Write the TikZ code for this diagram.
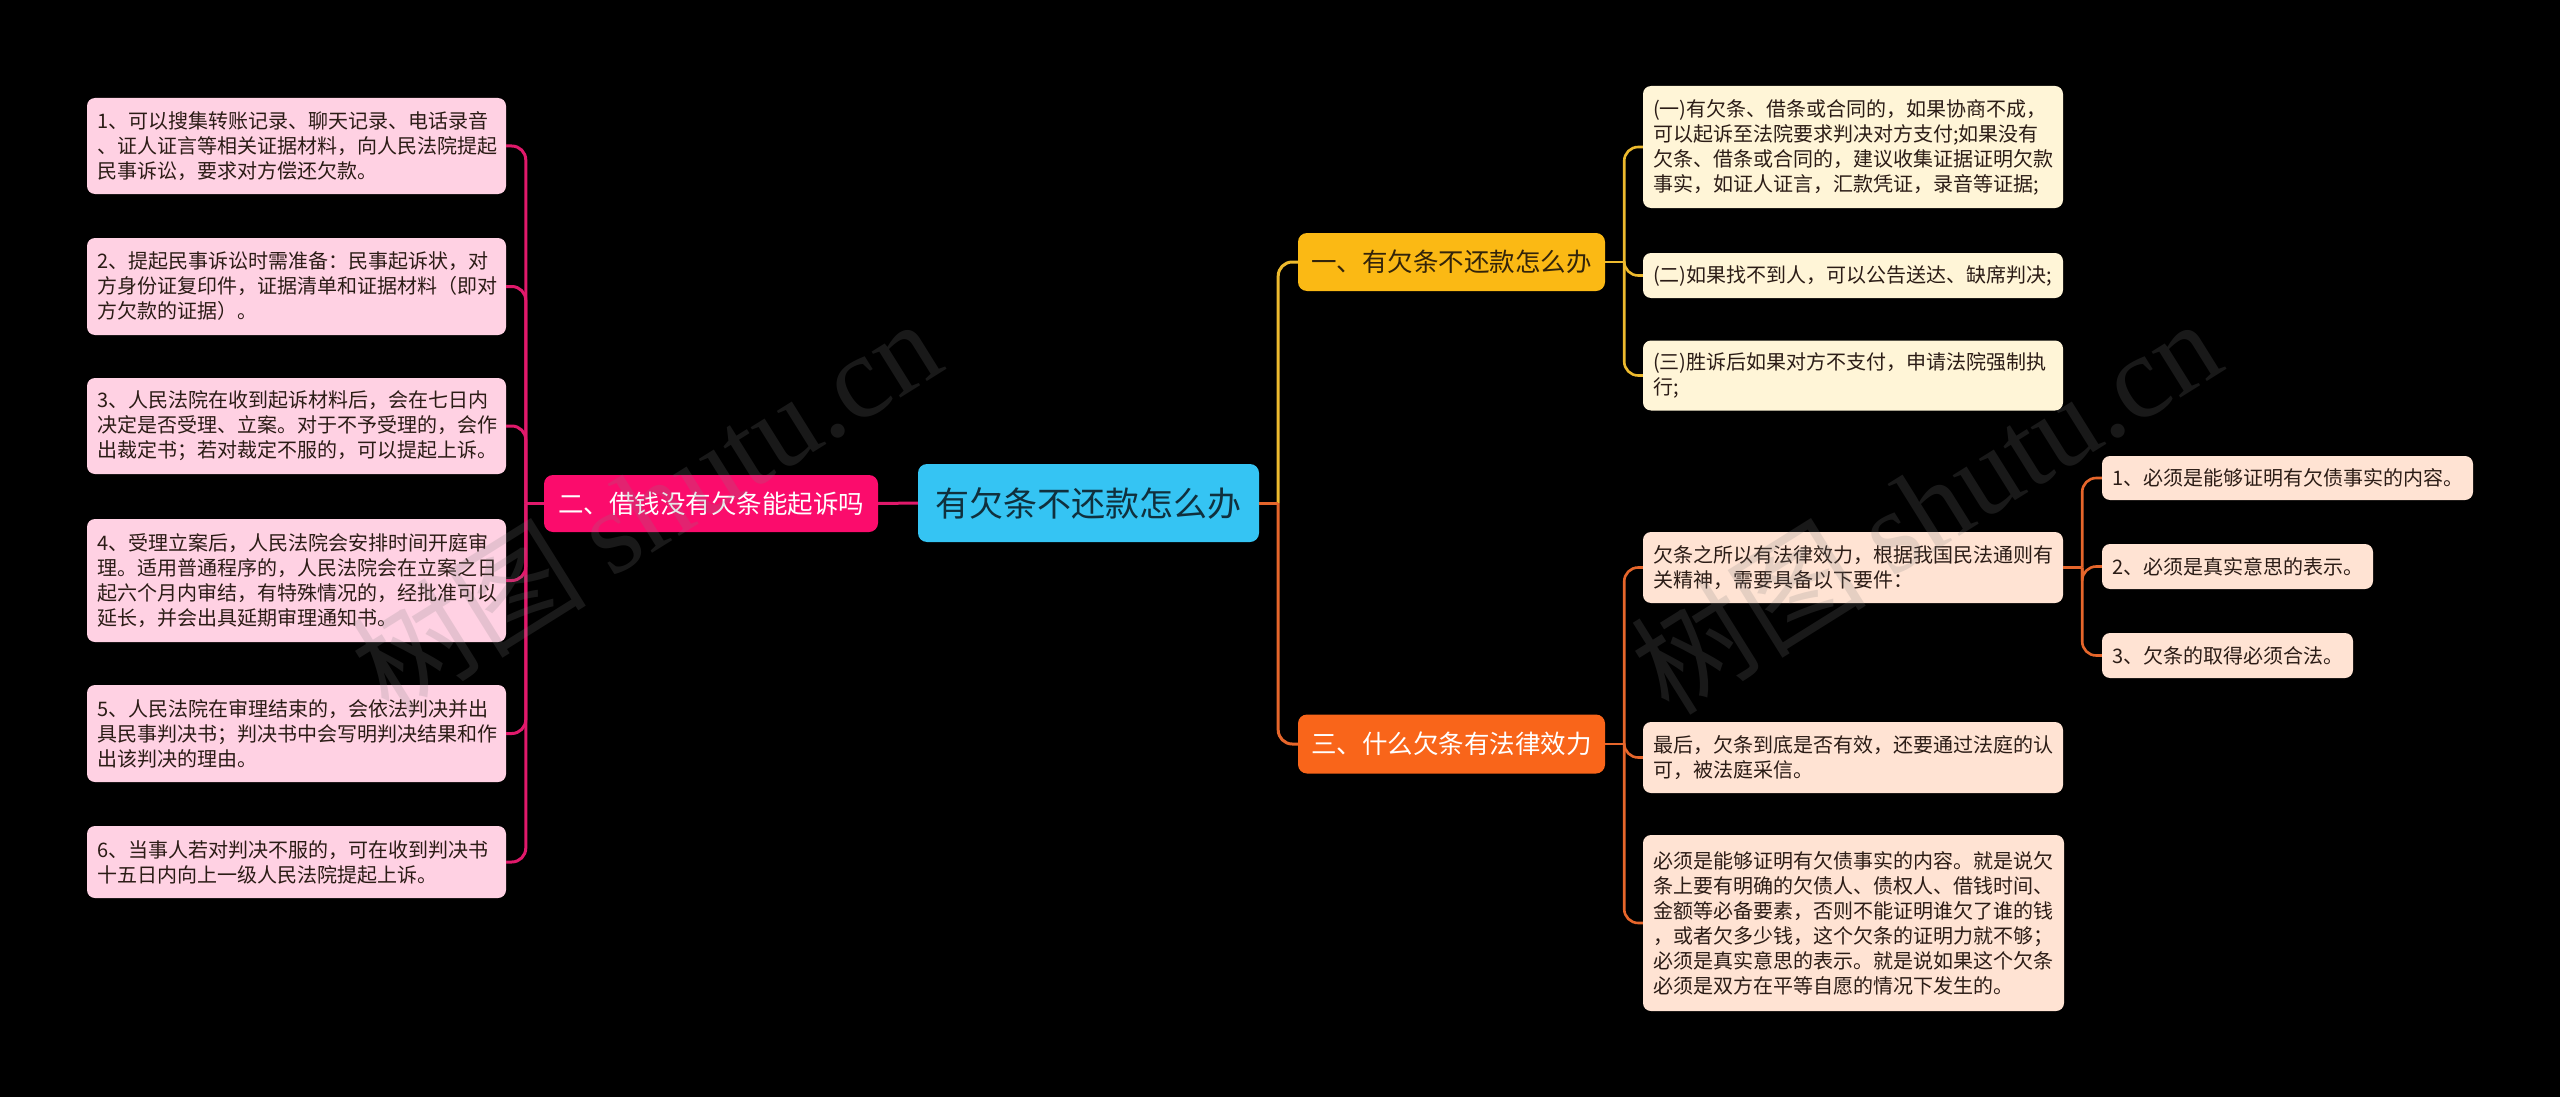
\documentclass[tikz,border=0pt]{standalone}
\usepackage{fontspec}
\setmainfont{Noto Sans CJK SC}
\newfontfamily\wmserif{Liberation Serif}
\usetikzlibrary{calc}
\definecolor{rootfill}{HTML}{35C4F3}
\definecolor{roottext}{HTML}{10303D}
\definecolor{pinkfill}{HTML}{FB0C6C}
\definecolor{pinkline}{HTML}{E0196B}
\definecolor{pinkleaf}{HTML}{FFD1E3}
\definecolor{yelfill}{HTML}{FBB914}
\definecolor{yelline}{HTML}{EDBA2E}
\definecolor{yelleaf}{HTML}{FFF5D7}
\definecolor{yeltext}{HTML}{33240A}
\definecolor{orfill}{HTML}{F9651A}
\definecolor{orline}{HTML}{E6662B}
\definecolor{orleaf}{HTML}{FFE3D3}
\definecolor{leaftext}{HTML}{2B1C16}
\tikzset{
  mainbox/.style={rounded corners=9pt, align=center, inner sep=0pt, font=\fontsize{25.5}{30}\selectfont},
  leafbox/.style={rounded corners=8pt, align=left, inner xsep=10pt, inner ysep=0pt, text=leaftext, font=\fontsize{20}{25}\selectfont},
  pleaf/.style={leafbox, fill=pinkleaf},
  yleaf/.style={leafbox, fill=yelleaf},
  oleaf/.style={leafbox, fill=orleaf},
  conn/.style={line width=3pt, rounded corners=14pt},
  wm/.style={text=gray, text opacity=0.2, font=\fontsize{118}{118}\selectfont, inner sep=0pt}
}
\begin{document}
\begin{tikzpicture}[x=1pt,y=-1pt]
\fill[black] (0,0) rectangle (2560,1097);
\useasboundingbox (0,0) rectangle (2560,1097);

% main nodes
\node[mainbox, fill=rootfill, text=roottext, minimum width=341pt, minimum height=78pt, font=\fontsize{34}{40}\selectfont] (root) at (1088.5,503) {有欠条不还款怎么办};
\node[mainbox, fill=pinkfill, text=white, minimum width=334pt, minimum height=57pt] (L) at (711,503.5) {二、借钱没有欠条能起诉吗};
\node[mainbox, fill=yelfill, text=yeltext, minimum width=307pt, minimum height=58pt] (Y) at (1451.5,262) {一、有欠条不还款怎么办};
\node[mainbox, fill=orfill, text=white, minimum width=307pt, minimum height=59pt] (O) at (1451.5,744) {三、什么欠条有法律效力};

% left leaves
\node[pleaf, text width=399pt, minimum height=96pt] (L1) at (296.5,146) {1、可以搜集转账记录、聊天记录、电话录音\\、证人证言等相关证据材料，向人民法院提起\\民事诉讼，要求对方偿还欠款。};
\node[pleaf, text width=399pt, minimum height=97pt] (L2) at (296.5,286.5) {2、提起民事诉讼时需准备：民事起诉状，对\\方身份证复印件，证据清单和证据材料（即对\\方欠款的证据）。};
\node[pleaf, text width=399pt, minimum height=96pt] (L3) at (296.5,426) {3、人民法院在收到起诉材料后，会在七日内\\决定是否受理、立案。对于不予受理的，会作\\出裁定书；若对裁定不服的，可以提起上诉。};
\node[pleaf, text width=399pt, minimum height=123pt] (L4) at (296.5,580.5) {4、受理立案后，人民法院会安排时间开庭审\\理。适用普通程序的，人民法院会在立案之日\\起六个月内审结，有特殊情况的，经批准可以\\延长，并会出具延期审理通知书。};
\node[pleaf, text width=399pt, minimum height=97pt] (L5) at (296.5,733.5) {5、人民法院在审理结束的，会依法判决并出\\具民事判决书；判决书中会写明判决结果和作\\出该判决的理由。};
\node[pleaf, text width=399pt, minimum height=72pt] (L6) at (296.5,862) {6、当事人若对判决不服的，可在收到判决书\\十五日内向上一级人民法院提起上诉。};

% yellow leaves
\node[yleaf, text width=400pt, minimum height=122pt] (YA) at (1853,147) {(一)有欠条、借条或合同的，如果协商不成，\\可以起诉至法院要求判决对方支付;如果没有\\欠条、借条或合同的，建议收集证据证明欠款\\事实，如证人证言，汇款凭证，录音等证据;};
\node[yleaf, text width=400pt, minimum height=45pt] (YB) at (1853,275.5) {(二)如果找不到人，可以公告送达、缺席判决;};
\node[yleaf, text width=400pt, minimum height=70pt] (YC) at (1853,375.5) {(三)胜诉后如果对方不支付，申请法院强制执\\行;};

% orange leaves
\node[oleaf, text width=400pt, minimum height=71pt] (OD) at (1853,567.5) {欠条之所以有法律效力，根据我国民法通则有\\关精神，需要具备以下要件：};
\node[oleaf, text width=400pt, minimum height=71pt] (OE) at (1853,757.5) {最后，欠条到底是否有效，还要通过法庭的认\\可，被法庭采信。};
\node[oleaf, text width=401pt, minimum height=176pt] (OF) at (1853.5,923) {必须是能够证明有欠债事实的内容。就是说欠\\条上要有明确的欠债人、债权人、借钱时间、\\金额等必备要素，否则不能证明谁欠了谁的钱\\，或者欠多少钱，这个欠条的证明力就不够；\\必须是真实意思的表示。就是说如果这个欠条\\必须是双方在平等自愿的情况下发生的。};

% third level
\node[oleaf, text width=351pt, minimum height=44pt] (D1) at (2287.5,478) {1、必须是能够证明有欠债事实的内容。};
\node[oleaf, text width=251pt, minimum height=45pt] (D2) at (2237.5,566.5) {2、必须是真实意思的表示。};
\node[oleaf, text width=231pt, minimum height=45pt] (D3) at (2227.5,655.5) {3、欠条的取得必须合法。};

% connectors root
\draw[conn, pinkline] (root.west) -- (L.east);
\draw[conn, yelline] ([xshift=19pt]root.east) |- (Y.west);
\draw[conn, orline] ([xshift=19pt]root.east) |- (O.west);
\draw[conn, orline] (root.east) -- ([xshift=19pt]root.east);

% left
\foreach \n in {L1,L2,L3,L4,L5,L6}{
  \draw[conn, pinkline] ([xshift=-18pt]L.west) |- (\n.east);
}
\draw[conn, pinkline] (L.west) -- ([xshift=-18pt]L.west);

% yellow
\foreach \n in {YA,YB,YC}{
  \draw[conn, yelline, line width=2.6pt] ([xshift=19pt]Y.east) |- (\n.west);
}
\draw[conn, yelline, line width=2.6pt] (Y.east) -- ([xshift=19pt]Y.east);

% orange
\foreach \n in {OD,OE,OF}{
  \draw[conn, orline, line width=2.6pt] ([xshift=19pt]O.east) |- (\n.west);
}
\draw[conn, orline, line width=2.6pt] (O.east) -- ([xshift=19pt]O.east);

% third level
\foreach \n in {D1,D2,D3}{
  \draw[conn, orline, line width=2.6pt] ([xshift=19pt]OD.east) |- (\n.west);
}
\draw[conn, orline, line width=2.6pt] (OD.east) -- ([xshift=19pt]OD.east);

% watermarks
\node[wm, rotate=32] (wm1) at (645,505) {树图 {\wmserif shutu.cn}};
\node[wm, rotate=32] (wm2) at (1925,505) {树图 {\wmserif shutu.cn}};
\end{tikzpicture}
\end{document}
